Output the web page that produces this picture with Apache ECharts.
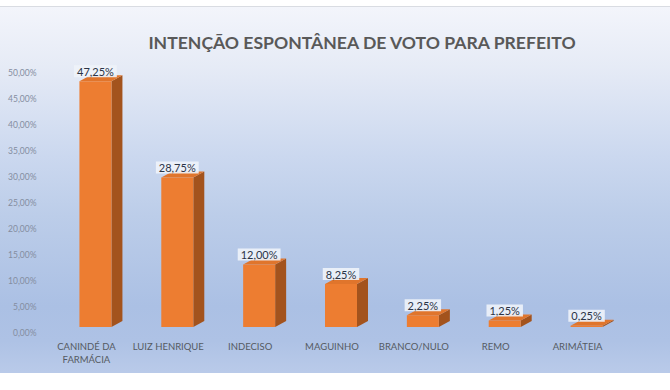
<!DOCTYPE html>
<html>
<head>
<meta charset="utf-8">
<script src="https://cdn.jsdelivr.net/npm/echarts@6/dist/echarts.min.js"></script>
<style>
  html, body { margin: 0; padding: 0; background: #ffffff; }
  #chart {
    width: 670px; height: 390px;
    background:
      linear-gradient(to bottom, #d9dce2 0px, #d9dce2 1px, #f3f5fb 1px, #e6ebf6 60px, #cbd8ef 150px, #bccde9 210px, #abc0e4 300px, #aec2e5 335px, #b9cae9 366px) 0 6px / 670px 367px no-repeat,
      #ffffff;
  }
</style>
</head>
<body>
<div id="chart"></div>
<script>
const categories = ['CANINDÉ DA\nFARMÁCIA', 'LUIZ HENRIQUE', 'INDECISO', 'MAGUINHO', 'BRANCO/NULO', 'REMO', 'ARIMÁTEIA'];
const values = [47.25, 28.75, 12.00, 8.25, 2.25, 1.25, 0.25];
const yTicks = [0, 5, 10, 15, 20, 25, 30, 35, 40, 45, 50];
const titleText = 'INTENÇÃO ESPONTÂNEA DE VOTO PARA PREFEITO';

function pct(v) { return v.toFixed(2).replace('.', ',') + '%'; }

const chart = echarts.init(document.getElementById('chart'), null, { renderer: 'svg' });
chart.setOption({
  backgroundColor: 'transparent',
  animation: false,
  title: {
    text: titleText,
    left: 357,
    top: 28,
    textAlign: 'center',
    textStyle: { fontFamily: 'Lato', fontWeight: 'bold', fontSize: 17.6, color: '#595959' }
  },
  grid: { left: 45.5, right: 51.5, top: 67, bottom: 63, containLabel: false },
  xAxis: {
    type: 'category',
    data: categories,
    axisLine: { show: false },
    axisTick: { show: false },
    splitLine: { show: false },
    axisLabel: {
      interval: 0,
      margin: 13,
      fontFamily: 'Lato',
      fontSize: 9.5,
      lineHeight: 13,
      color: '#555a62'
    }
  },
  yAxis: {
    type: 'value',
    min: yTicks[0],
    max: yTicks[yTicks.length - 1],
    interval: 5,
    axisLine: { show: false },
    axisTick: { show: false },
    splitLine: { show: false },
    axisLabel: {
      margin: 9,
      fontFamily: 'Lato',
      fontSize: 8.5,
      color: '#848da0',
      verticalAlign: 'top',
      padding: [1, 0, 0, 0],
      formatter: function (v) { return pct(v); }
    }
  },
  series: [{
    type: 'custom',
    data: values.map(function (v, i) { return [i, v]; }),
    encode: { x: 0, y: 1 },
    renderItem: function (params, api) {
      const idx = api.value(0);
      const v = api.value(1);
      const base = api.coord([idx, 0]);
      const top = api.coord([idx, v]);
      const c = base[0];
      const x0 = c - 7, x1 = c + 25, dx = 11, dy = 6;
      const yT = top[1], yB = base[1];
      return {
        type: 'group',
        children: [
          { type: 'polygon', shape: { points: [[x1, yT], [x1 + dx, yT - dy], [x1 + dx, yB - dy], [x1, yB]] },
            style: { fill: '#a3531d' } },
          { type: 'polygon', shape: { points: [[x0, yT], [x0 + dx, yT - dy], [x1 + dx, yT - dy], [x1, yT]] },
            style: { fill: '#e0752c' } },
          { type: 'rect', shape: { x: x0, y: yT, width: x1 - x0, height: yB - yT },
            style: { fill: '#ed7d31' } },
          { type: 'text', x: c + 9, y: yT - 10,
            style: {
              text: pct(v), align: 'center', verticalAlign: 'middle',
              font: '11px Lato', fill: '#2b3447',
              backgroundColor: 'rgba(238,243,250,0.9)',
              padding: [1, 3, 0, 3]
            } }
        ]
      };
    }
  }]
});
</script>
</body>
</html>
